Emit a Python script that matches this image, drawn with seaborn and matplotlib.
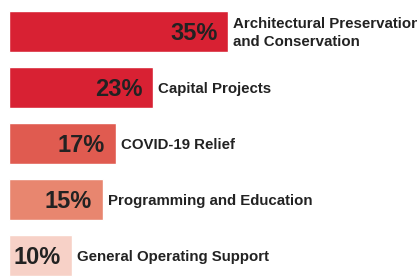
import matplotlib
matplotlib.use("Agg")
import matplotlib.pyplot as plt
import pandas as pd
import seaborn as sns

categories = [
    "Architectural Preservation\nand Conservation",
    "Capital Projects",
    "COVID-19 Relief",
    "Programming and Education",
    "General Operating Support",
]
shares = [35, 23, 17, 15, 10]
bar_colors = ["#D82133", "#D82133", "#E05B50", "#E8866F", "#F7D1C7"]

df = pd.DataFrame({"category": categories, "share": shares})

sns.set_theme(style="white")
plt.rcParams["font.family"] = ["Liberation Sans", "DejaVu Sans"]

fig = plt.figure(figsize=(4.17, 2.8), dpi=100)
ax = fig.add_axes([9 / 417, 0, 408 / 417, 1])

sns.barplot(
    data=df, x="share", y="category", hue="category",
    palette=bar_colors, width=0.73, legend=False, ax=ax, saturation=1,
)

ax.set_xlim(0, 65.1)
ax.set_ylim(4.4375, -0.5625)
ax.set_axis_off()

for i, (cat, val) in enumerate(zip(categories, shares)):
    ax.annotate(f"{val}%", (val, i), xytext=(-7.9, -1.4), textcoords="offset points",
                ha="right", va="center", fontsize=17, fontweight="bold", color="#222222")
    ax.annotate(cat, (val, i), xytext=(3.6, -0.9), textcoords="offset points",
                ha="left", va="center", fontsize=10.8, fontweight="bold", color="#222222",
                linespacing=1.4, annotation_clip=False)

fig.savefig("out.png", dpi=100)
